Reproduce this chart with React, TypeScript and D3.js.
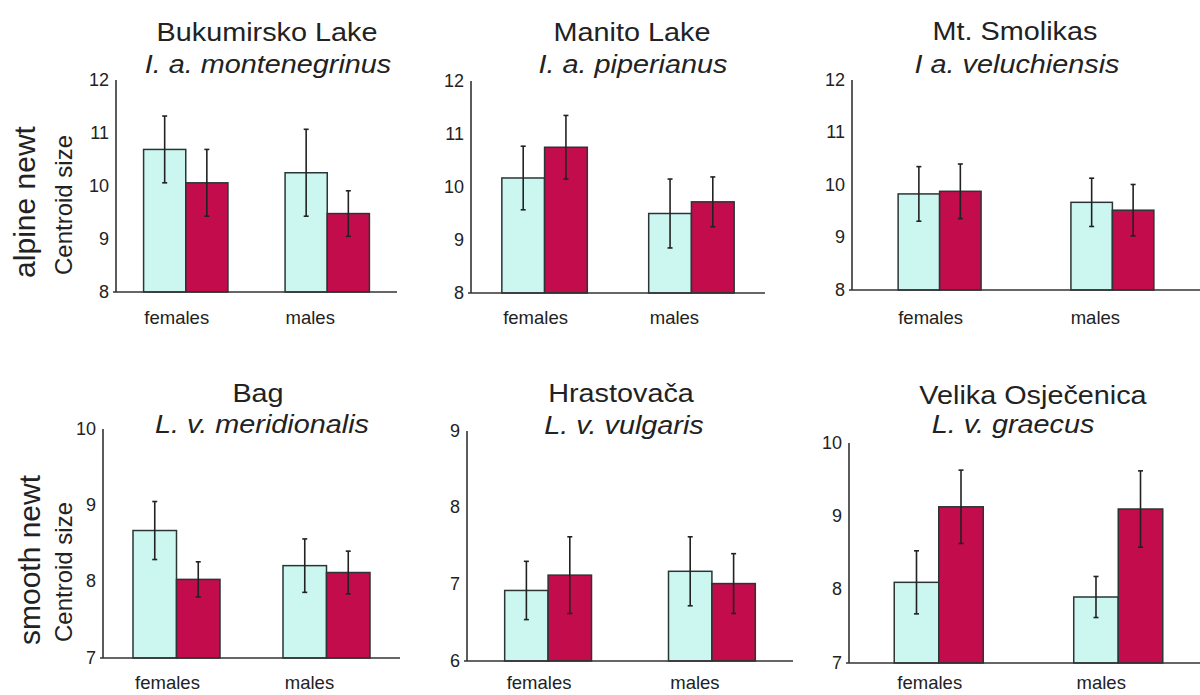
import * as d3 from "d3";

const panelTitles = ["Bukumirsko Lake", "Manito Lake", "Mt. Smolikas", "Bag", "Hrastovača", "Velika Osječenica"];
const panelTaxa = ["I. a. montenegrinus", "I. a. piperianus", "I a. veluchiensis", "L. v. meridionalis", "L. v. vulgaris", "L. v. graecus"];
const categories = ["females", "males"];
const seriesKeys = ["light", "dark"];

// mean centroid size, per panel: [females, males]
const lightMeans = [[10.69, 10.25], [10.17, 9.5], [9.83, 9.67], [8.67, 8.21], [6.92, 7.17], [8.1, 7.9]];
const lightErrors = [[0.63, 0.82], [0.6, 0.65], [0.52, 0.46], [0.38, 0.35], [0.38, 0.45], [0.43, 0.28]];
const darkMeans = [[10.06, 9.48], [10.75, 9.72], [9.88, 9.52], [8.03, 8.12], [7.12, 7.01], [9.13, 9.1]];
const darkErrors = [[0.63, 0.43], [0.6, 0.47], [0.52, 0.49], [0.23, 0.28], [0.5, 0.39], [0.5, 0.52]];

const yDomains = [[8, 12], [8, 12], [8, 12], [7, 10], [6, 9], [7, 10]];
const rowLabels = ["alpine newt", "smooth newt"];
const axisTitle = "Centroid size";

// where each panel sits on the page
const layout = [
  { x0: 116, x1: 397, top: 80, base: 292, pi: 0.404, po: 0.195, tx: 267, sx: 268, ty: 41, sy: 73, ly: 324 },
  { x0: 471, x1: 765, top: 81, base: 293, pi: 0.418, po: 0.21, tx: 632, sx: 633, ty: 41, sy: 73, ly: 324 },
  { x0: 852, x1: 1200, top: 80, base: 290, pi: 0.52, po: 0.267, tx: 1015, sx: 1017, ty: 40, sy: 73, ly: 324 },
  { x0: 103, x1: 400, top: 429, base: 658, pi: 0.42, po: 0.2, tx: 258, sx: 262, ty: 402, sy: 433, ly: 689 },
  { x0: 467, x1: 793, top: 431, base: 661, pi: 0.47, po: 0.23, tx: 621, sx: 624, ty: 402, sy: 434, ly: 689 },
  { x0: 849, x1: 1208, top: 443, base: 663, pi: 0.504, po: 0.252, tx: 1033, sx: 1013, ty: 404, sy: 433, ly: 689 },
];

const colors = { light: "#cbf7f0", dark: "#c20c4b" };
const font = "'Liberation Sans', Arial, Helvetica, sans-serif";
const ink = "#222";
const labelShift = { females: -9, males: -17 };

function Panel({ i }) {
  const L = layout[i];
  const [lo, hi] = yDomains[i];
  const y = d3.scaleLinear().domain([lo, hi]).range([L.base, L.top]);
  const x = d3
    .scaleBand()
    .domain(categories)
    .range([L.x0, L.x1])
    .paddingInner(L.pi)
    .paddingOuter(L.po);
  const xs = d3.scaleBand().domain(seriesKeys).range([0, x.bandwidth()]);
  const ticks = d3.range(lo, hi + 1);

  const bars = categories.flatMap((c, ci) =>
    seriesKeys.map((k) => ({
      cat: c,
      key: k,
      mean: k === "light" ? lightMeans[i][ci] : darkMeans[i][ci],
      err: k === "light" ? lightErrors[i][ci] : darkErrors[i][ci],
    }))
  );

  return (
    <g>
      <text
        transform={`translate(${L.tx},${L.ty}) scale(1.13,1)`}
        textAnchor="middle"
        fontSize={25.5}
        fill={ink}
      >
        {panelTitles[i]}
      </text>
      <text
        transform={`translate(${L.sx},${L.sy}) scale(1.13,1)`}
        textAnchor="middle"
        fontSize={25.5}
        fontStyle="italic"
        fill={ink}
      >
        {panelTaxa[i]}
      </text>

      {bars.map((b, j) => {
        const bx = (x(b.cat) as number) + (xs(b.key) as number);
        const w = xs.bandwidth();
        const cx = bx + w / 2;
        return (
          <g key={j}>
            <rect
              x={bx}
              y={y(b.mean)}
              width={w}
              height={L.base - y(b.mean)}
              fill={colors[b.key]}
              stroke="#2b3535"
              strokeWidth={1.5}
            />
            <line x1={cx} x2={cx} y1={y(b.mean + b.err)} y2={y(b.mean - b.err)} stroke={ink} strokeWidth={1.6} />
            <line x1={cx - 2.5} x2={cx + 2.5} y1={y(b.mean + b.err)} y2={y(b.mean + b.err)} stroke={ink} strokeWidth={1.6} />
            <line x1={cx - 2.5} x2={cx + 2.5} y1={y(b.mean - b.err)} y2={y(b.mean - b.err)} stroke={ink} strokeWidth={1.6} />
          </g>
        );
      })}

      <line x1={L.x0} x2={L.x0} y1={y(hi)} y2={L.base} stroke="#333" strokeWidth={1.6} />
      <line x1={L.x0 - 3} x2={L.x1} y1={L.base} y2={L.base} stroke="#333" strokeWidth={1.6} />

      {ticks.map((t) => (
        <text
          key={t}
          x={L.x0 - 7}
          y={y(t) + 1}
          textAnchor="end"
          dominantBaseline="middle"
          fontSize={18}
          fill={ink}
        >
          {t}
        </text>
      ))}

      {categories.map((c) => (
        <text
          key={c}
          x={(x(c) as number) + x.bandwidth() / 2 + labelShift[c]}
          y={L.ly}
          textAnchor="middle"
          fontSize={18.5}
          fill={ink}
        >
          {c}
        </text>
      ))}
    </g>
  );
}

export default function App() {
  return (
    <svg
      width={1200}
      height={695}
      style={{ position: "absolute", left: 0, top: 0, background: "#fff" }}
      fontFamily={font}
    >
      <rect width={1200} height={695} fill="#fff" />
      {rowLabels.map((r, ri) => {
        const cy = ri === 0 ? 202 : 560;
        const bx = ri === 0 ? 35 : 40;
        return (
          <text key={r} transform={`translate(${bx},${cy}) rotate(-90)`} textAnchor="middle" fontSize={30} fill={ink}>
            {r}
          </text>
        );
      })}
      {[205, 572].map((cy, ri) => (
        <text key={ri} transform={`translate(72,${cy}) rotate(-90)`} textAnchor="middle" fontSize={24} fill={ink}>
          {axisTitle}
        </text>
      ))}
      {panelTitles.map((_, i) => (
        <Panel key={i} i={i} />
      ))}
    </svg>
  );
}
